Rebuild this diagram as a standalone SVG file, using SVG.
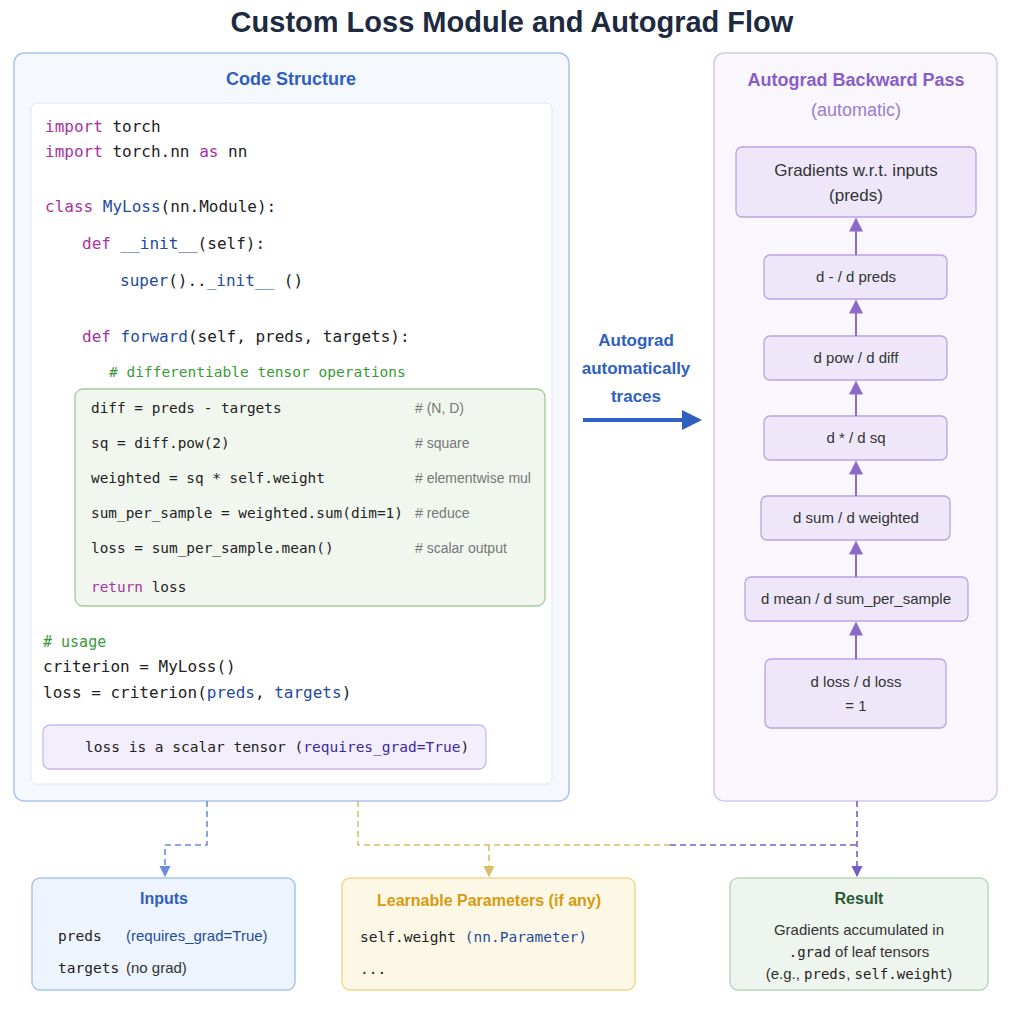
<svg xmlns="http://www.w3.org/2000/svg" width="1024" height="1024" viewBox="0 0 1024 1024">
<style>
.m{font-family:"DejaVu Sans Mono","Liberation Mono",monospace;fill:#222}
.s{font-family:"Liberation Sans",Arial,sans-serif}
.kw{fill:#a832a0}.fn{fill:#1f4aa0}.cm{fill:#3a9a3a}.gc{fill:#777;font-size:14px;font-family:"Liberation Sans",Arial,sans-serif}
.gb{fill:#ede7f9;stroke:#b9a3e3;stroke-width:1.3}
.gt{font-family:"Liberation Sans",Arial,sans-serif;font-size:15px;fill:#333;text-anchor:middle}
.up{stroke:#8a6cc8;stroke-width:2;marker-end:url(#ap)}
</style>
<defs>
<marker id="ap" viewBox="0 0 10 10" refX="9" refY="5" markerWidth="7" markerHeight="7" orient="auto-start-reverse"><path d="M0,0L10,5L0,10z" fill="#8a6cc8"/></marker>
<marker id="ab" viewBox="0 0 10 10" refX="9" refY="5" markerWidth="7" markerHeight="7" orient="auto"><path d="M0,0L10,5L0,10z" fill="#6a8fd8"/></marker>
<marker id="ay" viewBox="0 0 10 10" refX="9" refY="5" markerWidth="7" markerHeight="7" orient="auto"><path d="M0,0L10,5L0,10z" fill="#d8bd6a"/></marker>
<marker id="av" viewBox="0 0 10 10" refX="9" refY="5" markerWidth="7" markerHeight="7" orient="auto"><path d="M0,0L10,5L0,10z" fill="#7a5cc8"/></marker>
<marker id="abig" viewBox="0 0 10 10" refX="8" refY="5" markerWidth="5" markerHeight="5" orient="auto"><path d="M0,0L10,5L0,10z" fill="#2f5fbf"/></marker>
</defs>
<rect width="1024" height="1024" fill="#fff"/>
<text x="512" y="32" text-anchor="middle" class="s" font-size="29" font-weight="bold" fill="#1e2a3f">Custom Loss Module and Autograd Flow</text>

<g id="code">
<rect x="14" y="53" width="555" height="748" rx="10" fill="#f5f8fd" stroke="#a9c3ec" stroke-width="1.5"/>
<text x="291" y="85" text-anchor="middle" class="s" font-size="18" font-weight="bold" fill="#2f5fbf">Code Structure</text>
<rect x="31" y="103" width="521" height="681" rx="6" fill="#fff" stroke="#e3e6ec"/>
<g class="m" font-size="16">
<text x="45" y="132"><tspan class="kw">import</tspan> torch</text>
<text x="45" y="157"><tspan class="kw">import</tspan> torch.nn <tspan class="kw">as</tspan> nn</text>
<text x="45" y="212"><tspan class="kw">class</tspan> <tspan class="fn">MyLoss</tspan>(nn.Module):</text>
<text x="82" y="249"><tspan class="kw">def</tspan> <tspan class="fn">__init__</tspan>(self):</text>
<text x="120" y="286"><tspan class="fn">super</tspan>()..<tspan class="fn">_init__</tspan> ()</text>
<text x="82" y="342"><tspan class="kw">def</tspan> <tspan class="fn">forward</tspan>(self, preds, targets):</text>
<text x="109" y="377" class="cm" font-size="14.5">#  differentiable tensor operations</text>
</g>
<rect x="75" y="389" width="470" height="217" rx="8" fill="#f1f7ef" stroke="#9fcb9a" stroke-width="1.3"/>
<g class="m" font-size="14.4">
<text x="91" y="413">diff = preds - targets</text>
<text x="91" y="448">sq = diff.pow(2)</text>
<text x="91" y="483">weighted = sq * self.weight</text>
<text x="91" y="518">sum_per_sample = weighted.sum(dim=1)</text>
<text x="91" y="553">loss = sum_per_sample.mean()</text>
<text x="91" y="592"><tspan class="kw">return</tspan> loss</text>
</g>
<text x="415" y="413" class="gc"># (N, D)</text>
<text x="415" y="448" class="gc"># square</text>
<text x="415" y="483" class="gc"># elementwise mul</text>
<text x="415" y="518" class="gc"># reduce</text>
<text x="415" y="553" class="gc"># scalar output</text>
<g class="m" font-size="16">
<text x="43" y="647" class="cm" font-size="15">#  usage</text>
<text x="43" y="672">criterion = MyLoss()</text>
<text x="43" y="698">loss = criterion(<tspan class="fn">preds</tspan>, <tspan class="fn">targets</tspan>)</text>
</g>
<rect x="43" y="725" width="443" height="44" rx="7" fill="#f3eefc" stroke="#cbb8ec" stroke-width="1.3"/>
<text x="85" y="752" class="m" font-size="14.5">loss is a scalar tensor (<tspan fill="#3a2a9a">requires_grad=True</tspan>)</text>
</g>

<g id="autograd-label">
<text x="636" y="346" text-anchor="middle" class="s" font-size="17" font-weight="bold" fill="#2f5fbf">Autograd</text>
<text x="636" y="374" text-anchor="middle" class="s" font-size="17" font-weight="bold" fill="#2f5fbf">automatically</text>
<text x="636" y="402" text-anchor="middle" class="s" font-size="17" font-weight="bold" fill="#2f5fbf">traces</text>
</g>

<g id="backward">
<rect x="714" y="53" width="283" height="748" rx="10" fill="#f9f7fd" stroke="#d6c8f0" stroke-width="1.5"/>
<text x="856" y="86" text-anchor="middle" class="s" font-size="18" font-weight="bold" fill="#8a5cc8">Autograd Backward Pass</text>
<text x="856" y="116" text-anchor="middle" class="s" font-size="18" fill="#9a7cd0">(automatic)</text>
<g id="g1"><rect class="gb" x="736" y="147" width="240" height="70" rx="6"/><text class="gt" x="856" y="176" style="font-size:17px">Gradients w.r.t. inputs</text><text class="gt" x="856" y="201" style="font-size:17px">(preds)</text></g>
<g id="g2"><rect class="gb" x="764" y="255" width="183" height="44" rx="6"/><text class="gt" x="856" y="282">d - / d preds</text></g>
<g id="g3"><rect class="gb" x="764" y="336" width="183" height="44" rx="6"/><text class="gt" x="856" y="363">d pow / d diff</text></g>
<g id="g4"><rect class="gb" x="764" y="416" width="183" height="44" rx="6"/><text class="gt" x="856" y="443">d * / d sq</text></g>
<g id="g5"><rect class="gb" x="761" y="496" width="189" height="44" rx="6"/><text class="gt" x="856" y="523">d sum / d weighted</text></g>
<g id="g6"><rect class="gb" x="745" y="577" width="223" height="44" rx="6"/><text class="gt" x="856" y="604">d mean / d sum_per_sample</text></g>
<g id="g7"><rect class="gb" x="765" y="659" width="181" height="69" rx="6"/><text class="gt" x="856" y="687">d loss / d loss</text><text class="gt" x="856" y="711">= 1</text></g>
</g>

<g id="inputs">
<rect x="32" y="878" width="263" height="112" rx="8" fill="#eef4fd" stroke="#a9c3ec" stroke-width="1.5"/>
<text x="164" y="904" text-anchor="middle" class="s" font-size="16" font-weight="bold" fill="#2f5fbf">Inputs</text>
<text x="58" y="941" class="m" font-size="14.5">preds</text>
<text x="126" y="941" class="s" font-size="15" fill="#1f4aa0">(requires_grad=True)</text>
<text x="58" y="973" class="m" font-size="14.5">targets</text>
<text x="126" y="973" class="s" font-size="15" fill="#333">(no grad)</text>
</g>
<g id="params">
<rect x="342" y="878" width="293" height="112" rx="8" fill="#fdf8e6" stroke="#f0d890" stroke-width="1.5"/>
<text x="489" y="906" text-anchor="middle" class="s" font-size="16" font-weight="bold" fill="#d89a10">Learnable Parameters (if any)</text>
<text x="360" y="942" class="m" font-size="14.5">self.weight  <tspan fill="#1f4aa0">(nn.Parameter)</tspan></text>
<text x="360" y="974" class="m" font-size="14.5">...</text>
</g>
<g id="result">
<rect x="730" y="878" width="258" height="112" rx="8" fill="#eef5ee" stroke="#bcd6bf" stroke-width="1.5"/>
<text x="859" y="904" text-anchor="middle" class="s" font-size="16" font-weight="bold" fill="#2c5a36">Result</text>
<text x="859" y="935" text-anchor="middle" class="s" font-size="15" fill="#333">Gradients accumulated in</text>
<text x="859" y="957" text-anchor="middle" class="s" font-size="15" fill="#333"><tspan class="m" font-size="14">.grad</tspan> of leaf tensors</text>
<text x="859" y="979" text-anchor="middle" class="s" font-size="15" fill="#333">(e.g., <tspan class="m" font-size="14">preds</tspan>, <tspan class="m" font-size="14">self.weight</tspan>)</text>
</g>

<g id="connectors" fill="none">
<line x1="583" y1="420" x2="698" y2="420" stroke="#2f5fbf" stroke-width="4" marker-end="url(#abig)"/>
<line class="up" x1="856" y1="659" x2="856" y2="623"/>
<line class="up" x1="856" y1="577" x2="856" y2="542"/>
<line class="up" x1="856" y1="496" x2="856" y2="462"/>
<line class="up" x1="856" y1="416" x2="856" y2="382"/>
<line class="up" x1="856" y1="336" x2="856" y2="301"/>
<line class="up" x1="856" y1="255" x2="856" y2="219"/>
<path d="M207,801V845H165V876" stroke="#6a8fd8" stroke-width="1.6" stroke-dasharray="6,4" marker-end="url(#ab)"/>
<path d="M358,801V845H670" stroke="#d8bd6a" stroke-width="1.6" stroke-dasharray="6,4"/>
<path d="M489,845V876" stroke="#d8bd6a" stroke-width="1.6" stroke-dasharray="6,4" marker-end="url(#ay)"/>
<path d="M670,845H857" stroke="#7a5cc8" stroke-width="1.6" stroke-dasharray="6,4"/>
<path d="M857,801V876" stroke="#7a5cc8" stroke-width="1.6" stroke-dasharray="6,4" marker-end="url(#av)"/>
</g>
</svg>
